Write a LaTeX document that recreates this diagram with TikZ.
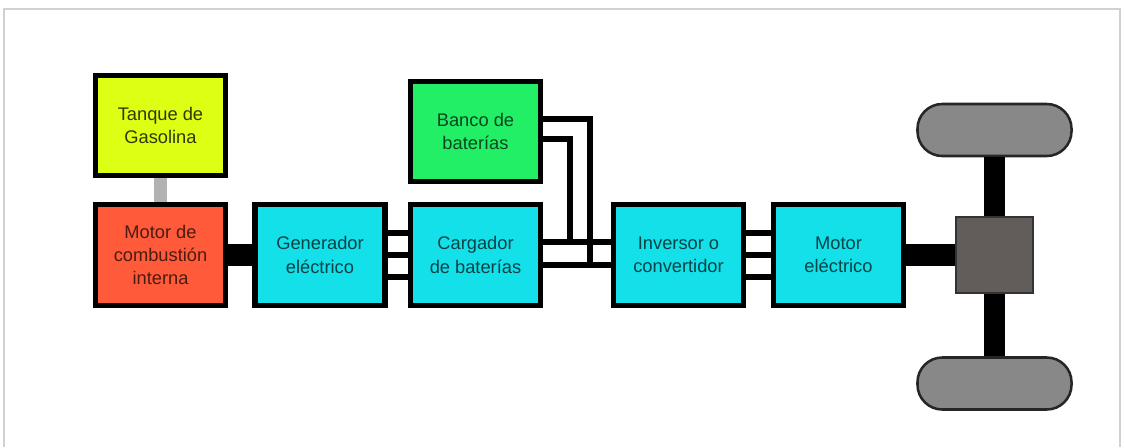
\documentclass[tikz,border=0pt]{standalone}
\usepackage{fontspec}
\setmainfont{Liberation Sans}
\usetikzlibrary{positioning}
\usetikzlibrary{arrows.meta}
\definecolor{tanqueyel}{HTML}{DDFF14}
\definecolor{motorred}{HTML}{FF5A3A}
\definecolor{bancogrn}{HTML}{22EE66}
\definecolor{cajacyan}{HTML}{14E0EA}
\definecolor{ruedagray}{HTML}{888888}
\definecolor{cajagray}{HTML}{625D5B}
\tikzset{
    caja/.style = {rectangle, line width=3.6pt, draw=black, align=center, minimum width=3.25cm, minimum height=2.52cm, font=\fontsize{13}{16.6}\selectfont},
    cajay/.style = {caja, fill=tanqueyel, text=tanqueyel!22!black},
    cajar/.style = {caja, fill=motorred, text=motorred!30!black},
    cajag/.style = {caja, fill=bancogrn, text=bancogrn!30!black},
    cajac/.style = {caja, fill=cajacyan, text=cajacyan!30!black},
    rueda/.style = {rectangle, rounded corners=0.62cm, draw=black!85, line width=1.8pt, fill=ruedagray, minimum width=3.85cm, minimum height=1.3cm},
    diferencial/.style = {rectangle, draw=black!80, line width=1.4pt, fill=cajagray, minimum width=1.92cm, minimum height=1.9cm},
    wire/.style = {line width=3.9pt, black},
    eje/.style = {line width=15pt, black}, % mechanical
    tubo/.style = {line width=9pt, black!30} % fuel
}

\begin{document}
\begin{tikzpicture}[x=0.025cm, y=-0.025cm]
  \useasboundingbox (0,0) rectangle (1124,447);
  \draw[black!18, line width=1pt] (4,447) -- (4,9) -- (1120,9) -- (1120,447);

  \node[cajay] at (160.5,125.5) (tanque) {Tanque de\\Gasolina};
  \node[cajar] at (160.5,255) (motor) {Motor de\\combustión\\interna};
  \node[cajac] at (320,255) (gen) {Generador\\eléctrico};
  \node[cajac] at (475.5,255) (carg) {Cargador\\de baterías};
  \node[cajag] at (475.5,131.5) (banco) {Banco de\\baterías};
  \node[cajac] at (678.5,255) (inv) {Inversor o\\convertidor};
  \node[cajac] at (838.5,255) (motel) {Motor\\eléctrico};

  \node[rueda] at (994.5,130) (wtop) {};
  \node[rueda] at (994.5,383.5) (wbot) {};
  \node[diferencial] at (994.5,255) (dif) {};

  \coordinate (b1) at (590,265);
  \coordinate (b2) at (570,242);

  \draw[tubo] (tanque) -- (motor);
  \draw[eje] (motor) -- (gen);
  \draw[eje] (motel) -- (dif);
  \draw[eje] (wtop) -- (dif);
  \draw[eje] (dif) -- (wbot);

  \foreach \s in {0.55,0,-0.55}{
    \draw[wire] ([yshift=\s cm]gen.east) -- ([yshift=\s cm]carg.west);
    \draw[wire] ([yshift=\s cm]inv.east) -- ([yshift=\s cm]motel.west);
  }
  \draw[wire] ([yshift=0.325cm]carg.east) -- ([yshift=0.325cm]inv.west);
  \draw[wire] ([yshift=-0.25cm]carg.east) -- ([yshift=-0.25cm]inv.west);
  \draw[wire] ([yshift=0.31cm]banco.east) -| (b1);
  \draw[wire] ([yshift=-0.19cm]banco.east) -| (b2);
\end{tikzpicture}
\end{document}
